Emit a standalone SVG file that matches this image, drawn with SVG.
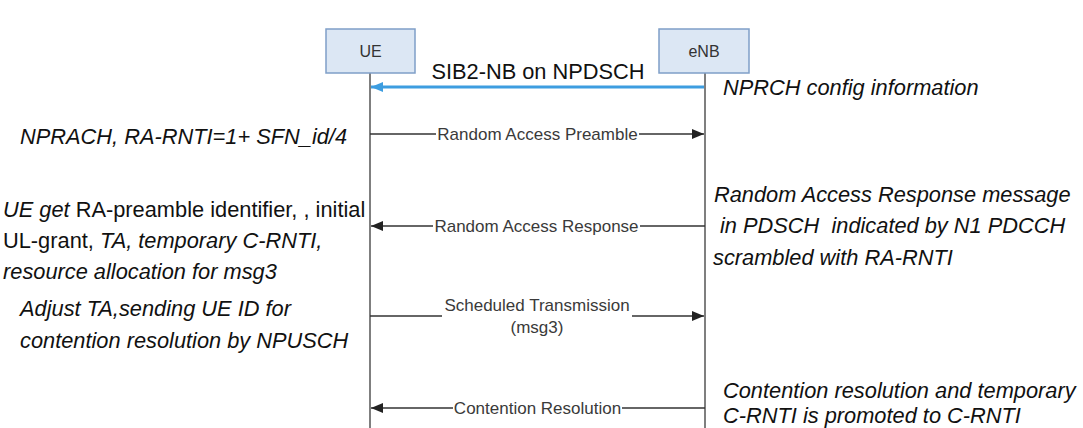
<svg xmlns="http://www.w3.org/2000/svg" width="1083" height="428" viewBox="0 0 1083 428">
<style>
.box{fill:#dce7f4;stroke:#7f9fc8;stroke-width:1.5}
.life{stroke:#555;stroke-width:1.5;fill:none}
.msg{stroke:#333;stroke-width:1.3;fill:none}
.nt{font-family:"Liberation Sans",Arial,sans-serif;font-size:16px;fill:#333}
.lbl{font-family:"Liberation Sans",Arial,sans-serif;font-size:17px;fill:#3a3a3a}
.note{font-family:"Liberation Sans",Arial,sans-serif;font-size:21.8px;fill:#111;font-style:italic}
.up{font-style:normal}
</style>
<defs>
<marker id="ah" viewBox="0 0 12 10" refX="12" refY="5" markerWidth="12" markerHeight="10" markerUnits="userSpaceOnUse" orient="auto">
<path d="M0,0 L12,5 L0,10 z" fill="#222"/>
</marker>
<marker id="ahb" viewBox="0 0 12 10" refX="12" refY="5" markerWidth="12" markerHeight="10" markerUnits="userSpaceOnUse" orient="auto">
<path d="M0,0 L12,5 L0,10 z" fill="#3d9de0"/>
</marker>
</defs>
<rect width="1083" height="428" fill="#fff"/>
<g id="lifelines">
<line class="life" x1="370" y1="73" x2="370" y2="428"/>
<line class="life" x1="705" y1="73" x2="705" y2="428"/>
</g>
<g id="node-ue">
<rect class="box" x="326" y="29" width="89" height="44"/>
<text class="nt" x="370.5" y="57" text-anchor="middle">UE</text>
</g>
<g id="node-enb">
<rect class="box" x="659" y="29" width="90" height="44"/>
<text class="nt" x="704" y="57" text-anchor="middle">eNB</text>
</g>
<g id="connectors">
<line x1="704" y1="87" x2="371" y2="87" stroke="#3d9de0" stroke-width="3" marker-end="url(#ahb)"/>
<text x="538" y="79" text-anchor="middle" style="font-family:'Liberation Sans',Arial,sans-serif;font-size:21.8px;fill:#111">SIB2-NB on NPDSCH</text>

<line class="msg" x1="370" y1="134" x2="436" y2="134"/>
<line class="msg" x1="639" y1="134" x2="704" y2="134" marker-end="url(#ah)"/>
<text class="lbl" x="537.5" y="140" text-anchor="middle">Random Access Preamble</text>

<line class="msg" x1="705" y1="226" x2="640" y2="226"/>
<line class="msg" x1="433" y1="226" x2="371" y2="226" marker-end="url(#ah)"/>
<text class="lbl" x="536.5" y="232" text-anchor="middle">Random Access Response</text>

<line class="msg" x1="370" y1="316" x2="442" y2="316"/>
<line class="msg" x1="632" y1="316" x2="704" y2="316" marker-end="url(#ah)"/>
<text class="lbl" x="537" y="311" text-anchor="middle">Scheduled Transmission</text>
<text class="lbl" x="537" y="333" text-anchor="middle">(msg3)</text>

<line class="msg" x1="705" y1="408" x2="622" y2="408"/>
<line class="msg" x1="453" y1="408" x2="371" y2="408" marker-end="url(#ah)"/>
<text class="lbl" x="537.5" y="414" text-anchor="middle">Contention Resolution</text>
</g>
<g id="notes">
<text class="note" x="723" y="95">NPRCH config information</text>
<text class="note" x="20" y="144">NPRACH, RA-RNTI=1+ SFN_id/4</text>
<text class="note" x="3" y="217">UE get <tspan class="up">RA-preamble identifier, , initial</tspan></text>
<text class="note" x="3" y="248"><tspan class="up">UL-grant,</tspan> TA, temporary C-RNTI,</text>
<text class="note" x="3" y="279">resource allocation for msg3</text>
<text class="note" x="20" y="316">Adjust TA,sending UE ID for</text>
<text class="note" x="20" y="348">contention resolution by NPUSCH</text>
<text class="note" x="714" y="202">Random Access Response message</text>
<text class="note" x="720" y="233">in PDSCH&#160; indicated by N1 PDCCH</text>
<text class="note" x="713" y="265">scrambled with RA-RNTI</text>
<text class="note" x="723" y="398">Contention resolution and temporary</text>
<text class="note" x="723" y="423">C-RNTI is promoted to C-RNTI</text>
</g>
</svg>
